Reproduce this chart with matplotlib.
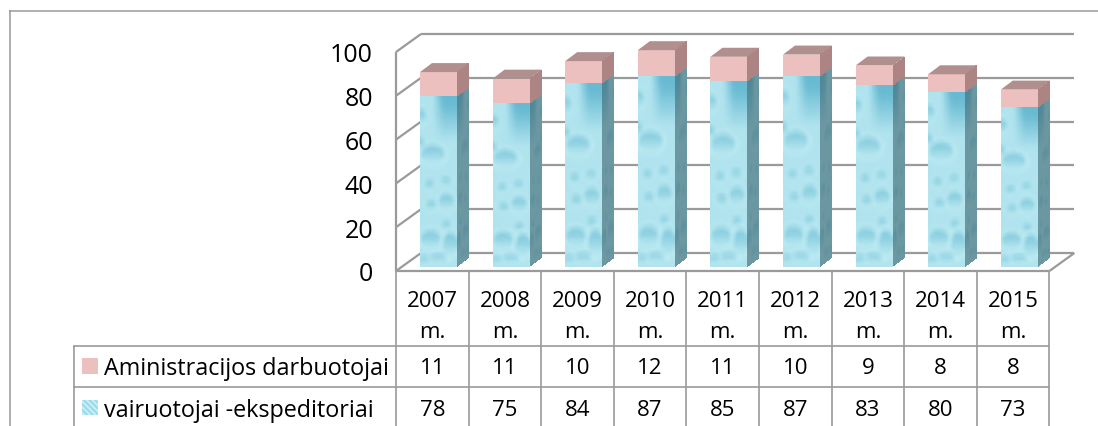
import numpy as np
import matplotlib
matplotlib.use("Agg")
import matplotlib.pyplot as plt
from matplotlib.patches import Polygon

plt.rcParams["font.family"] = ["Open Sans", "DejaVu Sans"]

years = ["2007", "2008", "2009", "2010", "2011", "2012", "2013", "2014", "2015"]
admin_staff = [11, 11, 10, 12, 11, 10, 9, 8, 8]
drivers = [78, 75, 84, 87, 85, 87, 83, 80, 73]
series_names = ["Aministracijos darbuotojai", "vairuotojai -ekspeditoriai"]
y_ticks = [0, 20, 40, 60, 80, 100]

W, H = 1098, 427
GRAY = "#9a9a9a"
FS = 16

# floor/wall geometry in pixels
X0, X1 = 396, 1049.4
Y0, Y100 = 272, 53
DEPTH_X, DEPTH_Y = 25, 18
BAR_W = 37

# bubbles in the water fill: centre x, centre y, radius x, radius y
bubbles = [(.34, .66, .34, .055), (.28, .16, .28, .055), (.82, .13, .2, .075),
           (.72, .38, .22, .05), (.30, .36, .16, .03), (.50, .05, .25, .025),
           (.02, .88, .14, .05), (.25, .48, .14, .03), (.70, .50, .16, .025),
           (.72, .24, .14, .03), (.12, .04, .15, .025), (.02, .72, .1, .04)]


def blur(a, n):
    pad = n // 2
    kernel = np.ones(n) / n
    a = np.pad(a, pad, mode="edge")
    a = np.apply_along_axis(lambda r: np.convolve(r, kernel, mode="same"), 0, a)
    a = np.apply_along_axis(lambda r: np.convolve(r, kernel, mode="same"), 1, a)
    return a[pad:-pad, pad:-pad]


def water_texture(nx=60, ny=200):
    xx, yy = np.meshgrid(np.linspace(0, 1, nx), np.linspace(0, 1, ny))
    pale = np.array([200, 241, 247]) / 255
    dark = np.array([104, 186, 210]) / 255
    amount = np.full_like(xx, .25)
    # darker blue glow under the top edge
    amount += 0.9 * np.clip((yy - .74) / .26, 0, 1) * np.clip((xx - .35) / .3, 0, 1)
    # faint ripples across the fill
    amount += .09 * np.sin(xx * 31 + yy * 70) * np.sin(yy * 95 - xx * 12)
    for cx, cy, rx, ry in bubbles:
        d = np.hypot((xx - cx) / rx, (yy - cy) / ry)
        # darker on the upper part of the bubble, pale rim around it
        amount += np.where(d < 1, 0.38 * np.clip(.6 + (yy - cy) / ry, 0, 1), 0)
        amount -= np.where((d >= 1) & (d < 1.3), .14, 0)
    amount = blur(np.clip(amount, 0, 1), 9)[..., None]
    return pale * (1 - amount) + dark * amount


def draw_face(ax, tex, origin, u, v):
    # quad mesh over the face given by its origin and edge vectors
    ny, nx = tex.shape[:2]
    s, t = np.meshgrid(np.linspace(0, 1, nx + 1), np.linspace(0, 1, ny + 1))
    xs = origin[0] + s * u[0] + t * v[0]
    ys = origin[1] + s * u[1] + t * v[1]
    ax.pcolormesh(xs, ys, tex, shading="flat", antialiased=False, zorder=3)


fig = plt.figure(figsize=(W / 100, H / 100), dpi=100)
ax = fig.add_axes([0, 0, 1, 1])

val_scale = (Y0 - Y100) / 100
slot = (X1 - X0) / len(years)


def seg(x0, x1, y0, y1, lw=1.5, color=GRAY, z=1):
    ax.plot([x0, x1], [y0, y1], color=color, lw=lw, solid_capstyle="butt", zorder=z)


# outer frame of the chart area
seg(9, W, 11.5, 11.5, lw=1.1)
seg(9.5, 9.5, 11, H, lw=1.1)

# walls and floor
for t in y_ticks:
    y_front = Y0 - t * val_scale
    seg(X0, X0 + DEPTH_X, y_front, y_front - DEPTH_Y, lw=1.6)
    seg(X0 + DEPTH_X, X1 + DEPTH_X, y_front - DEPTH_Y, y_front - DEPTH_Y, lw=1.6)
    ax.text(373, y_front + 3, str(t), ha="right", va="center", fontsize=18, color="black")
seg(X0, X0, Y100, Y0, lw=1.6)
seg(X0, X1, Y0, Y0, lw=1.6)
seg(X1, X1 + DEPTH_X, Y0, Y0 - DEPTH_Y, lw=1.6)

# stacked bars
water = water_texture()
# side faces: same fill, mirrored and pushed towards a grey teal
side_water = water[:, ::-1] * .35 + np.array([.27, .43, .47]) * .65
pink = np.array([[[237, 192, 192]]]) / 255
pink_side = np.array([[[172, 132, 132]]]) / 255
top_col = "#b08f8e"
dx, dy = 12, 9

for i, (lo, hi) in enumerate(zip(drivers, admin_staff)):
    left = X0 + i * slot + 24
    base = 268
    split = base - lo * val_scale
    top = base - (lo + hi) * val_scale
    draw_face(ax, water, (left, base), (BAR_W, 0), (0, split - base))
    draw_face(ax, side_water, (left + BAR_W, base), (dx, -dy), (0, split - base))
    draw_face(ax, pink, (left, split), (BAR_W, 0), (0, top - split))
    draw_face(ax, pink_side, (left + BAR_W, split), (dx, -dy), (0, top - split))
    ax.add_patch(Polygon([(left, top), (left + BAR_W, top), (left + BAR_W + dx, top - dy),
                          (left + dx, top - dy)], closed=True, fc=top_col, ec="none", zorder=3))

# data table under the plot
ROW_A, ROW_B = 347, 388
TAB_LEFT = 73
for i in range(len(years) + 1):
    seg(X0 + i * slot, X0 + i * slot, Y0, H, lw=1.2)
seg(TAB_LEFT, X1, ROW_A, ROW_A, lw=1.2)
seg(TAB_LEFT, X1, ROW_B, ROW_B, lw=1.2)
seg(TAB_LEFT + .5, TAB_LEFT + .5, ROW_A, H, lw=1.2)

for i, yr in enumerate(years):
    cx = X0 + (i + .5) * slot
    ax.text(cx, 302, yr, ha="center", va="center", fontsize=FS)
    ax.text(cx, 333, "m.", ha="center", va="center", fontsize=FS)
    ax.text(cx, 369, str(admin_staff[i]), ha="center", va="center", fontsize=FS)
    ax.text(cx, 411, str(drivers[i]), ha="center", va="center", fontsize=FS)

# legend keys and series names
draw_face(ax, pink, (82, 375), (16, 0), (0, -16))
kx, ky = np.meshgrid(np.arange(16), np.arange(15))
stripes = (np.sin((kx + ky) * 1.1) + 1)[..., None] / 2
key = np.array([150, 215, 232]) / 255 * (1 - stripes) + np.array([205, 240, 246]) / 255 * stripes
draw_face(ax, key, (82, 416), (16, 0), (0, -15))
ax.text(104, 369, series_names[0], ha="left", va="center", fontsize=16.8)
ax.text(104, 411, series_names[1], ha="left", va="center", fontsize=16.8)

ax.set_xlim(0, W)
ax.set_ylim(H, 0)
ax.axis("off")

fig.savefig("out.png", dpi=100)
